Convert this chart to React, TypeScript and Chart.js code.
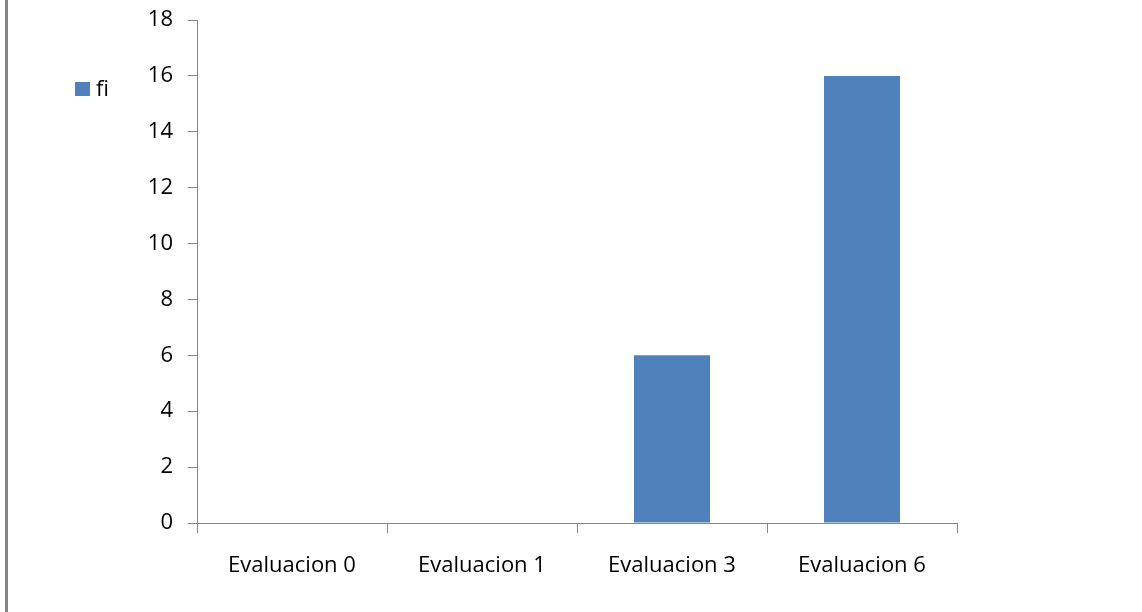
import React, { useEffect, useRef } from "react";
import { Chart, registerables } from "chart.js";

Chart.register(...registerables);

const categories = ["Evaluacion 0", "Evaluacion 1", "Evaluacion 3", "Evaluacion 6"];
const seriesName = "fi";
const fiValues = [0, 0, 6, 16];
const yMin = 0;
const yMax = 18;
const yStep = 2;

const BAR_COLOR = "#4F81BD";
const AXIS_COLOR = "#868686";
const FONT = "'Open Sans', 'Noto Sans', sans-serif";

const legendPlugin = {
  id: "sideLegend",
  afterDraw(chart: any) {
    const ctx = chart.ctx;
    const ds = chart.data.datasets[0];
    ctx.save();
    ctx.fillStyle = ds.backgroundColor;
    ctx.fillRect(75, 82, 15, 14);
    ctx.fillStyle = "#000";
    ctx.font = `22px ${FONT}`;
    ctx.textBaseline = "middle";
    ctx.textAlign = "left";
    ctx.fillText(ds.label, 96, 90);
    ctx.restore();
  },
};

export default function App() {
  const ref = useRef<HTMLCanvasElement>(null);
  useEffect(() => {
    if (!ref.current) return;
    const chart = new Chart(ref.current, {
      type: "bar",
      data: {
        labels: categories,
        datasets: [
          {
            label: seriesName,
            data: fiValues,
            backgroundColor: BAR_COLOR,
            borderWidth: 0,
            categoryPercentage: 1,
            barPercentage: 0.4,
          },
        ],
      },
      options: {
        responsive: false,
        animation: false,
        maintainAspectRatio: false,
        layout: { padding: { top: 20, right: 185, bottom: 0, left: 0 } },
        plugins: { legend: { display: false }, tooltip: { enabled: false } },
        scales: {
          x: {
            grid: {
              display: true,
              drawOnChartArea: false,
              drawTicks: true,
              tickLength: 10,
              color: AXIS_COLOR,
              offset: true,
            },
            border: { display: true, color: AXIS_COLOR, width: 1 },
            ticks: {
              color: "#000",
              font: { family: FONT, size: 22 },
              padding: 20,
              maxRotation: 0,
              autoSkip: false,
            },
            afterFit(scale: any) {
              scale.height = 89;
              scale.paddingLeft = 0;
              scale.paddingRight = 0;
            },
          },
          y: {
            min: yMin,
            max: yMax,
            grid: {
              display: true,
              drawOnChartArea: false,
              drawTicks: true,
              tickLength: 9,
              color: AXIS_COLOR,
            },
            border: { display: true, color: AXIS_COLOR, width: 1 },
            ticks: {
              stepSize: yStep,
              color: "#000",
              font: { family: FONT, size: 22 },
              padding: 15,
            },
            afterFit(scale: any) {
              scale.width = 197;
              scale.paddingTop = 0;
              scale.paddingBottom = 0;
            },
          },
        },
      },
      plugins: [legendPlugin],
    });
    return () => chart.destroy();
  }, []);

  return (
    <div style={{ position: "fixed", left: 0, top: 0, width: 1142, height: 612, background: "#fff" }}>
      <canvas ref={ref} width={1142} height={612} style={{ position: "absolute", left: 0, top: 0 }} />
      <div style={{ position: "absolute", left: 5, top: 0, width: 3, height: 612, background: AXIS_COLOR }} />
    </div>
  );
}
